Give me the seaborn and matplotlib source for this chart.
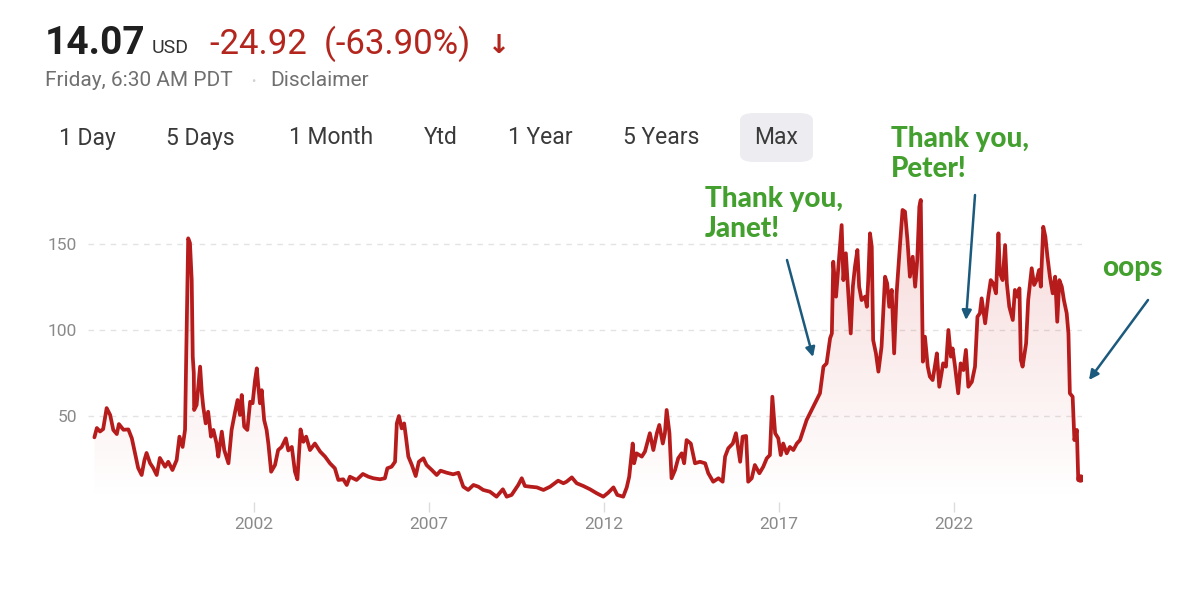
import matplotlib
matplotlib.use('Agg')
import matplotlib.pyplot as plt
from matplotlib.patches import FancyBboxPatch
from matplotlib.colors import LinearSegmentedColormap
import seaborn as sns
import numpy as np
import pandas as pd

# price history (decimal year, USD)
years = [
    1997.44, 1997.51, 1997.60, 1997.69, 1997.79, 1997.89, 1997.98, 1998.08, 1998.14, 1998.27,
    1998.41, 1998.51, 1998.60, 1998.69, 1998.79, 1998.87, 1998.93, 1999.03, 1999.12, 1999.22,
    1999.31, 1999.46, 1999.55, 1999.67, 1999.79, 1999.87, 1999.96, 2000.03, 2000.06, 2000.12,
    2000.17, 2000.22, 2000.25, 2000.28, 2000.29, 2000.36, 2000.46, 2000.51, 2000.55, 2000.62,
    2000.69, 2000.77, 2000.84, 2000.93, 2000.98, 2001.08, 2001.15, 2001.27, 2001.36, 2001.46,
    2001.53, 2001.60, 2001.65, 2001.72, 2001.81, 2001.89, 2001.96, 2002.03, 2002.08, 2002.12,
    2002.17, 2002.22, 2002.29, 2002.36, 2002.41, 2002.49, 2002.60, 2002.69, 2002.79, 2002.91,
    2002.98, 2003.08, 2003.17, 2003.24, 2003.33, 2003.41, 2003.49, 2003.60, 2003.74, 2003.89,
    2004.03, 2004.17, 2004.31, 2004.41, 2004.55, 2004.65, 2004.74, 2004.93, 2005.11, 2005.27,
    2005.41, 2005.60, 2005.74, 2005.81, 2005.93, 2006.03, 2006.08, 2006.14, 2006.22, 2006.29,
    2006.34, 2006.41, 2006.51, 2006.62, 2006.71, 2006.84, 2006.93, 2007.08, 2007.22, 2007.33,
    2007.51, 2007.69, 2007.84, 2007.98, 2008.12, 2008.27, 2008.41, 2008.55, 2008.74, 2008.93,
    2009.11, 2009.22, 2009.36, 2009.55, 2009.65, 2009.74, 2009.89, 2010.08, 2010.27, 2010.46,
    2010.69, 2010.84, 2010.93, 2011.08, 2011.22, 2011.41, 2011.60, 2011.79, 2011.98, 2012.12,
    2012.27, 2012.38, 2012.55, 2012.65, 2012.72, 2012.82, 2012.86, 2012.93, 2013.08, 2013.17,
    2013.31, 2013.41, 2013.51, 2013.58, 2013.68, 2013.74, 2013.79, 2013.87, 2013.93, 2014.03,
    2014.12, 2014.22, 2014.29, 2014.36, 2014.48, 2014.60, 2014.74, 2014.89, 2014.98, 2015.12,
    2015.27, 2015.39, 2015.46, 2015.55, 2015.68, 2015.77, 2015.89, 2015.96, 2016.06, 2016.12,
    2016.22, 2016.31, 2016.44, 2016.55, 2016.65, 2016.74, 2016.81, 2016.89, 2016.98, 2017.05,
    2017.12, 2017.22, 2017.31, 2017.41, 2017.51, 2017.60, 2017.79, 2017.98, 2018.17, 2018.27,
    2018.36, 2018.46, 2018.51, 2018.55, 2018.63, 2018.69, 2018.74, 2018.79, 2018.84, 2018.91,
    2018.98, 2019.05, 2019.11, 2019.17, 2019.24, 2019.29, 2019.36, 2019.46, 2019.51, 2019.55,
    2019.60, 2019.65, 2019.69, 2019.77, 2019.84, 2019.93, 2020.03, 2020.09, 2020.15, 2020.22,
    2020.29, 2020.36, 2020.46, 2020.53, 2020.60, 2020.67, 2020.74, 2020.82, 2020.89, 2020.95,
    2021.01, 2021.05, 2021.11, 2021.17, 2021.25, 2021.31, 2021.39, 2021.46, 2021.51, 2021.58,
    2021.69, 2021.77, 2021.84, 2021.91, 2021.96, 2022.03, 2022.12, 2022.19, 2022.27, 2022.34,
    2022.41, 2022.51, 2022.60, 2022.67, 2022.74, 2022.79, 2022.89, 2022.98, 2023.05, 2023.12,
    2023.20, 2023.27, 2023.31, 2023.39, 2023.46, 2023.51, 2023.58, 2023.68, 2023.74, 2023.81,
    2023.87, 2023.91, 2023.96, 2024.06, 2024.12, 2024.22, 2024.29, 2024.36, 2024.43, 2024.48,
    2024.55, 2024.61, 2024.67, 2024.74, 2024.82, 2024.89, 2024.95, 2025.01, 2025.08, 2025.14,
    2025.22, 2025.27, 2025.31, 2025.39, 2025.44, 2025.51, 2025.55, 2025.60,
]
prices = [
    37.6, 43.0, 41.0, 42.4, 54.6, 50.6, 41.9, 39.5, 45.3, 42.0,
    42.2, 37.0, 28.5, 19.8, 15.7, 24.4, 28.5, 22.6, 19.8, 15.7,
    25.6, 20.5, 23.4, 18.6, 24.4, 38.0, 32.0, 42.0, 80.6, 153.3,
    150.6, 129.0, 84.5, 75.0, 53.5, 56.4, 78.7, 63.3, 55.4, 45.7,
    52.5, 38.0, 41.9, 34.0, 26.4, 40.9, 30.2, 22.5, 41.9, 52.5,
    59.3, 50.6, 62.2, 43.8, 41.9, 58.3, 57.4, 70.9, 77.7, 68.0,
    57.4, 65.0, 47.7, 41.9, 34.0, 17.6, 21.5, 30.2, 32.0, 37.0,
    30.0, 32.0, 17.6, 13.2, 42.2, 35.0, 38.0, 30.2, 34.0, 29.3,
    26.4, 22.5, 19.6, 12.8, 13.2, 9.9, 14.7, 12.8, 16.3, 14.7,
    13.8, 13.2, 13.8, 19.6, 20.5, 23.4, 45.7, 50.0, 42.8, 45.7,
    38.0, 26.4, 21.5, 15.1, 23.4, 25.4, 21.5, 18.6, 15.7, 18.2,
    17.0, 16.1, 17.0, 8.9, 7.0, 9.9, 8.9, 7.0, 6.0, 3.1,
    7.4, 3.1, 4.1, 9.9, 13.8, 9.3, 8.9, 8.5, 7.0, 8.9,
    12.4, 10.9, 11.8, 14.3, 10.9, 9.3, 7.4, 5.1, 3.1, 5.4,
    8.5, 4.1, 3.1, 8.5, 14.7, 34.0, 22.5, 28.3, 26.4, 29.3,
    40.0, 30.2, 40.0, 44.8, 34.0, 40.0, 53.5, 40.0, 13.8, 18.6,
    25.4, 28.3, 22.5, 36.0, 34.0, 22.5, 23.4, 22.5, 16.7, 11.8,
    13.8, 11.8, 26.4, 31.2, 34.0, 40.0, 23.4, 38.0, 38.4, 11.8,
    13.8, 21.5, 16.7, 20.5, 25.4, 27.3, 61.2, 40.0, 37.0, 27.3,
    34.0, 28.3, 32.0, 30.2, 34.0, 36.0, 47.7, 55.4, 63.2, 78.7,
    80.6, 95.2, 98.0, 139.7, 119.4, 134.9, 148.4, 161.0, 129.0, 144.6,
    121.3, 98.0, 125.2, 136.8, 146.5, 125.2, 117.4, 119.4, 113.5, 129.0,
    156.2, 148.4, 94.2, 86.4, 75.8, 90.3, 131.0, 127.1, 113.5, 123.3,
    86.4, 121.3, 150.4, 169.8, 168.8, 152.3, 131.0, 142.6, 125.2, 140.7,
    171.7, 175.6, 81.6, 96.1, 78.7, 72.9, 70.9, 79.7, 86.4, 67.0,
    80.6, 78.7, 100.0, 84.5, 89.3, 78.7, 63.2, 80.6, 76.7, 88.4,
    67.0, 69.9, 78.7, 107.7, 109.7, 118.4, 103.9, 119.4, 129.0, 127.1,
    121.3, 156.2, 133.0, 129.0, 149.4, 127.1, 113.5, 105.8, 123.3, 119.4,
    124.2, 82.6, 78.7, 92.2, 117.4, 135.9, 126.2, 129.0, 134.9, 125.2,
    160.0, 154.3, 142.6, 131.0, 121.3, 131.0, 104.8, 129.0, 125.2, 117.4,
    109.7, 98.0, 63.2, 61.2, 36.0, 41.9, 12.8, 14.07,
]
year_ticks = [2002, 2007, 2012, 2017, 2022]
price_ticks = [50, 100, 150]
range_labels = ['1 Day', '5 Days', '1 Month', 'Ytd', '1 Year', '5 Years', 'Max']

RED = '#b71c1c'
GREEN = '#43a02f'
ARROW = '#1b5a7d'

sns.set_theme(style='white')
plt.rcParams['font.family'] = ['Roboto', 'DejaVu Sans']

W, H = 1200, 600
def fx(px):
    return px / W
def fy(py):
    return 1 - py / H

fig = plt.figure(figsize=(12, 6), dpi=100)
fig.patch.set_facecolor('white')

# axes placed so the year ticks land where the screenshot has them
ax = fig.add_axes([fx(88), fy(502), fx(1082 - 88), (502 - 192.4) / H])
xmin = 2002 + (88 - 254) / 35
xmax = 2002 + (1082 - 254) / 35

df = pd.DataFrame({'year': years, 'price': prices})

# gradient area under the line
poly = ax.fill_between(df['year'], df['price'], 0, color='none', lw=0)
grad_cmap = LinearSegmentedColormap.from_list(
    'fade', [(0.80, 0.10, 0.10, 0.0), (0.80, 0.10, 0.10, 0.17)])
grad = np.linspace(0, 1, 256).reshape(-1, 1)
img = ax.imshow(grad, extent=[xmin, xmax, 0, 180], origin='lower',
                aspect='auto', cmap=grad_cmap, zorder=1)
img.set_clip_path(poly.get_paths()[0], transform=ax.transData)

sns.lineplot(data=df, x='year', y='price', color=RED, lw=2.7, ax=ax, zorder=3)
ax.plot(years[-1], prices[-1], 'o', color=RED, ms=5, zorder=4)

ax.set_xlim(xmin, xmax)
ax.set_ylim(0, 180)
ax.set_xticks(year_ticks)
ax.set_xticklabels([str(y) for y in year_ticks])
ax.set_yticks(price_ticks)
ax.set_xlabel('')
ax.set_ylabel('')
sns.despine(ax=ax, left=True, bottom=True)
ax.yaxis.grid(True, linestyle=(0, (4, 4)), color='#e3e3e3', lw=1)
ax.xaxis.grid(False)
ax.tick_params(axis='y', length=0, pad=8, labelsize=12.5, labelcolor='#8a8a8a')
ax.tick_params(axis='x', length=7, width=1, color='#dcdcdc', pad=4,
               labelsize=12.5, labelcolor='#8a8a8a', bottom=True)

# header
fig.text(fx(45), fy(44), '14.07', fontsize=28, fontweight='bold', color='#1f1f1f', va='center')
fig.text(fx(152), fy(48), 'USD', fontsize=14, color='#333333', va='center')
fig.text(fx(210), fy(44), '-24.92  (-63.90%)', fontsize=25, color='#b3261e', va='center')
fig.text(fx(488), fy(46), '↓', fontsize=19, fontweight='bold', color='#b3261e', va='center')
fig.text(fx(45), fy(81), 'Friday, 6:30 AM PDT', fontsize=15, color='#707070', va='center')
fig.text(fx(251), fy(81), '•', fontsize=9, color='#d0d0d0', va='center')
fig.text(fx(270), fy(81), 'Disclaimer', fontsize=15, color='#707070', va='center')

# range selector
fig.patches.append(FancyBboxPatch((fx(740), fy(162)), fx(73), (162 - 113) / H,
                                  boxstyle='round,pad=0,rounding_size=0.012',
                                  transform=fig.transFigure, facecolor='#ececf1',
                                  edgecolor='none'))
for label, px in zip(range_labels, [59, 166, 289, 424, 508, 623, 754]):
    fig.text(fx(px), fy(138), label, fontsize=16.5, color='#3a3a3a', va='center')

# annotations
note_font = dict(fontsize=20, fontweight='black', color=GREEN, family=['Lato', 'DejaVu Sans'],
                 linespacing=1.15, va='center', ha='left')
fig.text(fx(705), fy(214), 'Thank you,\nJanet!', **note_font)
fig.text(fx(891), fy(154), 'Thank you,\nPeter!', **note_font)
fig.text(fx(1102), fy(268), 'oops', **note_font)

arrow = dict(arrowstyle='-|>', color=ARROW, lw=1.8, mutation_scale=14, shrinkA=0, shrinkB=0)
for (x0, y0), (x1, y1) in [((787, 260), (813, 357)),
                           ((975, 195), (966, 320)),
                           ((1148, 300), (1089, 380))]:
    fig.add_artist(plt.Annotation('', xy=(fx(x1), fy(y1)), xytext=(fx(x0), fy(y0)),
                                  xycoords='figure fraction', textcoords='figure fraction',
                                  arrowprops=arrow))

fig.savefig('out.png', dpi=100, facecolor='white')
